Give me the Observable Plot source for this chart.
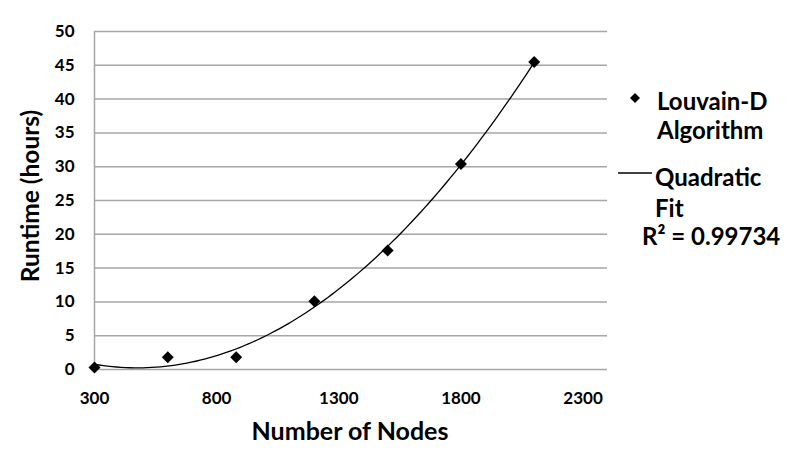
<!DOCTYPE html>
<html>
<head>
<meta charset="utf-8">
<script src="https://cdn.jsdelivr.net/npm/d3@7"></script>
<script src="https://cdn.jsdelivr.net/npm/@observablehq/plot@0.6"></script>
<style>
  html, body { margin: 0; padding: 0; background: #fff; }
  #chart { width: 789px; height: 455px; position: relative; }
  svg { font-family: Lato, "Open Sans", sans-serif; }
</style>
</head>
<body>
<div id="chart"></div>
<script>
// Data
const nodes = [300, 600, 880, 1200, 1500, 1800, 2100];
const runtimeHours = [0.3, 1.8, 1.8, 10.1, 17.6, 30.4, 45.5];
const xTicks = [300, 800, 1300, 1800, 2300];
const yTicks = [0, 5, 10, 15, 20, 25, 30, 35, 40, 45, 50];
const seriesName = ["Louvain-D", "Algorithm"];
const fitName = ["Quadratic", "Fit"];
const rSquaredLabel = "R² = 0.99734";

const points = nodes.map((n, i) => ({n, h: runtimeHours[i]}));

// least-squares quadratic fit of the data (trendline)
function quadFit(xs, ys) {
  let S = Array.from({length: 5}, () => 0), T = [0, 0, 0];
  xs.forEach((x, i) => {
    for (let k = 0; k < 5; k++) S[k] += x ** k;
    for (let k = 0; k < 3; k++) T[k] += ys[i] * x ** k;
  });
  const A = [[S[0], S[1], S[2], T[0]], [S[1], S[2], S[3], T[1]], [S[2], S[3], S[4], T[2]]];
  for (let i = 0; i < 3; i++) {
    for (let j = i + 1; j < 3; j++) {
      const f = A[j][i] / A[i][i];
      for (let k = i; k < 4; k++) A[j][k] -= f * A[i][k];
    }
  }
  const c = [0, 0, 0];
  for (let i = 2; i >= 0; i--) {
    let s = A[i][3];
    for (let k = i + 1; k < 3; k++) s -= A[i][k] * c[k];
    c[i] = s / A[i][i];
  }
  return c;
}
const coef = quadFit(nodes, runtimeHours);
const xmin = d3.min(nodes), xmax = d3.max(nodes);
const fitCurve = d3.range(0, 101).map(i => {
  const x = xmin + (xmax - xmin) * i / 100;
  return {n: x, h: coef[0] + coef[1] * x + coef[2] * x * x};
});

const gridColor = "#a6a6a6";

const plot = Plot.plot({
  width: 789,
  height: 455,
  marginLeft: 94,
  marginRight: 182,
  marginTop: 31,
  marginBottom: 86,
  style: {fontFamily: "Lato, 'Open Sans', sans-serif", background: "#fff"},
  x: {domain: [300, 2400], ticks: xTicks, label: null},
  y: {domain: [0, 50], ticks: yTicks, label: null},
  marks: [
    Plot.gridY(yTicks, {stroke: gridColor, strokeOpacity: 1, strokeWidth: 1.5}),
    Plot.ruleX([300], {stroke: gridColor, strokeWidth: 1.5}),
    Plot.axisY(yTicks, {tickSize: 0, tickPadding: 20, fontSize: 17, fontWeight: "bold", fill: "#000", tickFormat: d3.format("d")}),
    Plot.axisX(xTicks, {tickSize: 0, tickPadding: 22, fontSize: 17, fontWeight: "bold", fill: "#000", tickFormat: d3.format("d")}),
    Plot.line(fitCurve, {x: "n", y: "h", stroke: "#000", strokeWidth: 1.3, curve: "linear"}),
    Plot.dot(points, {x: "n", y: "h", symbol: "diamond2", r: 5.4, fill: "#000", stroke: "none"})
  ]
});

document.getElementById("chart").appendChild(plot);

const svg = d3.select(plot);
// axis titles
svg.append("text")
  .attr("x", 350).attr("y", 440)
  .attr("text-anchor", "middle")
  .attr("font-size", 25).attr("font-weight", "bold").attr("fill", "#000")
  .text("Number of Nodes");
svg.append("text")
  .attr("transform", "translate(39,196) rotate(-90)")
  .attr("text-anchor", "middle")
  .attr("font-size", 24.5).attr("font-weight", "bold").attr("fill", "#000")
  .text("Runtime (hours)");

// legend
const lg = svg.append("g").attr("font-size", 24).attr("font-weight", "bold").attr("fill", "#000").attr("text-anchor", "start");
lg.append("path").attr("d", d3.symbol(d3.symbolDiamond2, 64)()).attr("transform", "translate(635,98)").attr("fill", "#000");
lg.append("text").attr("x", 657).attr("y", 110).text(seriesName[0]);
lg.append("text").attr("x", 657).attr("y", 139).text(seriesName[1]);
lg.append("line").attr("x1", 618).attr("x2", 652).attr("y1", 173).attr("y2", 173).attr("stroke", "#000").attr("stroke-width", 1.3);
lg.append("text").attr("x", 655).attr("y", 186).text(fitName[0]);
lg.append("text").attr("x", 655).attr("y", 217).text(fitName[1]);
lg.append("text").attr("x", 642).attr("y", 245).text(rSquaredLabel);
</script>
</body>
</html>
